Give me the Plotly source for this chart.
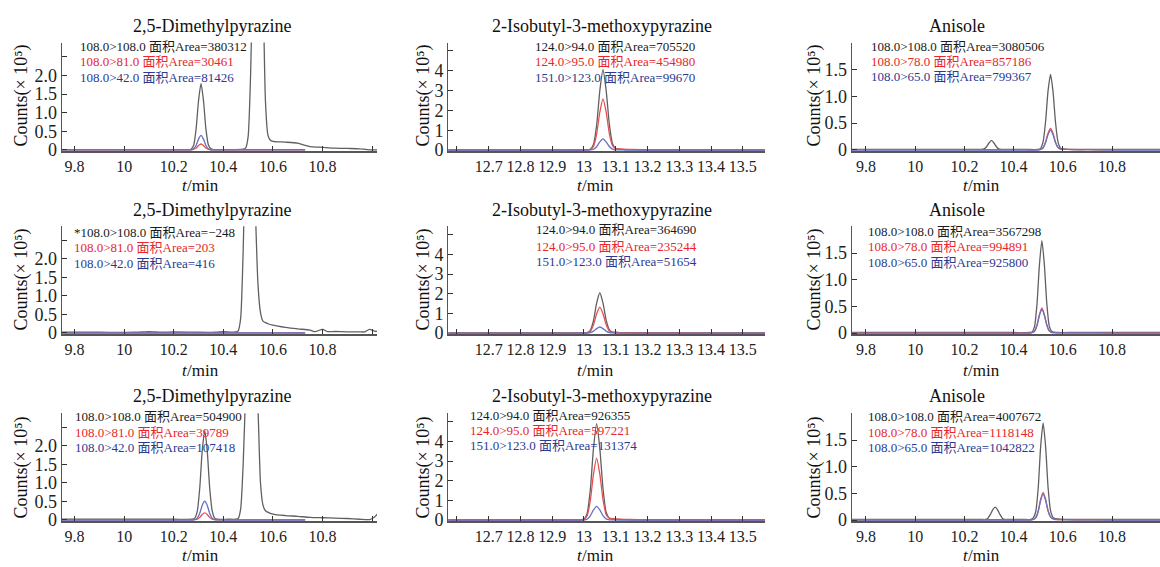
import plotly.graph_objects as go

# ---------------- DATA ----------------
# Panel 1 (row1, col1) 2,5-Dimethylpyrazine
P1_T_K = [9.74, 9.9, 10.0, 10.1, 10.2, 10.26, 10.27, 10.28, 10.29, 10.30, 10.31, 10.32, 10.33, 10.34, 10.35, 10.36, 10.40, 10.45, 10.48, 10.49, 10.50, 10.51, 10.52, 10.53, 10.54, 10.55, 10.56, 10.57, 10.58, 10.59, 10.60, 10.65, 10.70, 10.73, 10.75, 10.80, 10.85, 10.90, 10.95, 10.98, 11.02]
P1_K = [0.01, 0.01, 0.01, 0.01, 0.01, 0.01, 0.02, 0.12, 0.55, 1.32, 1.78, 1.32, 0.55, 0.13, 0.03, 0.01, 0.01, 0.01, 0.02, 0.05, 0.35, 2.0, 5.0, 7.5, 8.0, 7.0, 4.5, 1.3, 0.40, 0.26, 0.23, 0.21, 0.18, 0.12, 0.09, 0.07, 0.05, 0.04, 0.03, 0.01, 0.0]
P1_T_RB = [9.74, 10.0, 10.2, 10.26, 10.27, 10.28, 10.29, 10.30, 10.31, 10.32, 10.33, 10.34, 10.35, 10.36, 10.4, 10.6, 10.73]
P1_R = [0.005, 0.005, 0.005, 0.005, 0.005, 0.015, 0.05, 0.12, 0.16, 0.12, 0.05, 0.015, 0.005, 0.005, 0.005, 0.005, 0.005]
P1_B = [0, 0, 0, 0, 0.005, 0.03, 0.12, 0.29, 0.39, 0.29, 0.12, 0.03, 0.005, 0, 0, 0, 0]

# Panel 2 (row1, col2) 2-Isobutyl-3-methoxypyrazine
P2_T = [12.57, 12.8, 12.95, 13.0, 13.02, 13.03, 13.04, 13.05, 13.06, 13.07, 13.08, 13.09, 13.10, 13.12, 13.15, 13.2, 13.4, 13.57]
P2_K = [0.01, 0.01, 0.01, 0.01, 0.04, 0.28, 1.25, 3.0, 4.05, 3.0, 1.3, 0.32, 0.08, 0.04, 0.02, 0.01, 0.01, 0.01]
P2_R = [0.005, 0.005, 0.005, 0.005, 0.02, 0.18, 0.8, 1.91, 2.58, 1.91, 0.83, 0.22, 0.07, 0.05, 0.03, 0.01, 0.005, 0.005]
P2_B = [0, 0, 0, 0, 0.005, 0.04, 0.17, 0.41, 0.56, 0.41, 0.18, 0.05, 0.01, 0.005, 0, 0, 0, 0]

# Panel 3 (row1, col3) Anisole
P3_T = [9.74, 10.0, 10.2, 10.26, 10.27, 10.28, 10.29, 10.30, 10.31, 10.32, 10.33, 10.34, 10.35, 10.36, 10.45, 10.50, 10.51, 10.52, 10.53, 10.54, 10.55, 10.56, 10.57, 10.58, 10.59, 10.60, 10.62, 10.7, 10.8, 11.0]
P3_K = [0.01, 0.01, 0.01, 0.01, 0.01, 0.02, 0.06, 0.13, 0.18, 0.13, 0.06, 0.02, 0.01, 0.01, 0.01, 0.01, 0.03, 0.155, 0.53, 1.10, 1.41, 1.10, 0.53, 0.16, 0.04, 0.02, 0.01, 0.01, 0.01, 0.01]
P3_R = [0.005, 0.005, 0.005, 0.005, 0.005, 0.005, 0.005, 0.005, 0.005, 0.005, 0.005, 0.005, 0.005, 0.005, 0.005, 0.005, 0.01, 0.045, 0.15, 0.31, 0.40, 0.31, 0.15, 0.05, 0.015, 0.01, 0.01, 0.005, 0.005, 0.005]
P3_B = [0, 0, 0, 0, 0, 0, 0, 0, 0, 0, 0, 0, 0, 0, 0, 0, 0.01, 0.04, 0.14, 0.29, 0.37, 0.29, 0.14, 0.05, 0.02, 0.015, 0.01, 0.005, 0, 0]

# Panel 4 (row2, col1)
P4_T_K = [9.74, 9.9, 10.05, 10.10, 10.15, 10.2, 10.3, 10.37, 10.40, 10.43, 10.45, 10.46, 10.47, 10.48, 10.49, 10.50, 10.51, 10.52, 10.53, 10.54, 10.55, 10.56, 10.58, 10.60, 10.65, 10.70, 10.75, 10.77, 10.80, 10.82, 10.85, 10.90, 10.95, 10.97, 10.99, 11.01, 11.03]
P4_K = [0.02, 0.02, 0.02, 0.035, 0.02, 0.03, 0.02, 0.02, 0.035, 0.02, 0.03, 0.06, 0.4, 2.2, 5.0, 7.0, 7.5, 6.0, 3.2, 1.3, 0.55, 0.32, 0.25, 0.21, 0.15, 0.11, 0.08, 0.035, 0.1, 0.04, 0.04, 0.03, 0.03, 0.03, 0.1, 0.05, 0.04]
P4_T_RB = [9.74, 10.0, 10.4, 10.73]
P4_R = [0.005, 0.005, 0.005, 0.005]
P4_B = [0, 0, 0, 0]

# Panel 5 (row2, col2)
P5_T = [12.57, 12.8, 12.95, 12.99, 13.01, 13.02, 13.03, 13.04, 13.05, 13.06, 13.07, 13.08, 13.09, 13.11, 13.14, 13.2, 13.4, 13.57]
P5_K = [0.01, 0.01, 0.01, 0.01, 0.02, 0.14, 0.63, 1.52, 2.05, 1.52, 0.66, 0.17, 0.05, 0.03, 0.02, 0.01, 0.01, 0.01]
P5_R = [0.005, 0.005, 0.005, 0.005, 0.01, 0.09, 0.41, 0.98, 1.32, 0.98, 0.43, 0.11, 0.04, 0.03, 0.02, 0.01, 0.005, 0.005]
P5_B = [0, 0, 0, 0, 0.003, 0.02, 0.1, 0.23, 0.31, 0.23, 0.1, 0.025, 0.008, 0.004, 0, 0, 0, 0]

# Panel 6 (row2, col3)
P6_T = [9.74, 10.0, 10.2, 10.4, 10.465, 10.475, 10.485, 10.495, 10.505, 10.515, 10.525, 10.535, 10.545, 10.555, 10.565, 10.58, 10.65, 10.8, 11.0]
P6_K = [0.01, 0.01, 0.01, 0.01, 0.01, 0.02, 0.12, 0.54, 1.28, 1.73, 1.28, 0.55, 0.13, 0.03, 0.015, 0.01, 0.01, 0.01, 0.01]
P6_R = [0.005, 0.005, 0.005, 0.005, 0.005, 0.01, 0.035, 0.15, 0.35, 0.47, 0.35, 0.15, 0.04, 0.01, 0.008, 0.006, 0.005, 0.005, 0.005]
P6_B = [0, 0, 0, 0, 0, 0.01, 0.03, 0.14, 0.33, 0.45, 0.33, 0.15, 0.04, 0.01, 0.006, 0.004, 0.003, 0, 0]

# Panel 7 (row3, col1)
P7_T_K = [9.74, 10.0, 10.2, 10.275, 10.285, 10.295, 10.305, 10.315, 10.325, 10.335, 10.345, 10.355, 10.365, 10.375, 10.42, 10.45, 10.46, 10.47, 10.48, 10.49, 10.50, 10.51, 10.52, 10.53, 10.54, 10.55, 10.56, 10.57, 10.60, 10.65, 10.70, 10.75, 10.80, 10.85, 10.90, 10.95, 10.99, 11.01, 11.03]
P7_K = [0.02, 0.02, 0.02, 0.02, 0.05, 0.24, 0.87, 1.88, 2.42, 1.88, 0.87, 0.25, 0.05, 0.02, 0.02, 0.02, 0.04, 0.3, 1.5, 3.5, 6.0, 7.0, 6.5, 4.5, 3.0, 1.0, 0.4, 0.25, 0.16, 0.12, 0.1, 0.07, 0.06, 0.05, 0.04, 0.02, 0.01, 0.08, 0.22]
P7_T_RB = [9.74, 10.0, 10.2, 10.275, 10.285, 10.295, 10.305, 10.315, 10.325, 10.335, 10.345, 10.355, 10.365, 10.375, 10.42, 10.6, 10.73]
P7_R = [0.005, 0.005, 0.005, 0.005, 0.01, 0.02, 0.07, 0.15, 0.19, 0.15, 0.07, 0.02, 0.01, 0.005, 0.005, 0.005, 0.005]
P7_B = [0, 0, 0, 0, 0.01, 0.05, 0.18, 0.40, 0.51, 0.40, 0.18, 0.05, 0.01, 0.005, 0, 0, 0]

# Panel 8 (row3, col2)
P8_T = [12.57, 12.8, 12.95, 12.99, 13.0, 13.01, 13.02, 13.03, 13.04, 13.05, 13.06, 13.07, 13.08, 13.09, 13.11, 13.14, 13.2, 13.4, 13.57]
P8_K = [0.01, 0.01, 0.01, 0.01, 0.05, 0.34, 1.52, 3.63, 4.9, 3.63, 1.6, 0.4, 0.1, 0.06, 0.04, 0.02, 0.01, 0.01, 0.01]
P8_R = [0.005, 0.005, 0.005, 0.005, 0.03, 0.22, 0.98, 2.33, 3.15, 2.33, 1.05, 0.28, 0.1, 0.07, 0.05, 0.03, 0.01, 0.005, 0.005]
P8_B = [0, 0, 0, 0, 0.005, 0.05, 0.22, 0.52, 0.70, 0.52, 0.23, 0.06, 0.015, 0.008, 0.005, 0, 0, 0, 0]

# Panel 9 (row3, col3)
P9_T = [9.74, 10.0, 10.2, 10.27, 10.285, 10.295, 10.305, 10.315, 10.325, 10.335, 10.345, 10.355, 10.365, 10.375, 10.45, 10.47, 10.48, 10.49, 10.50, 10.51, 10.52, 10.53, 10.54, 10.55, 10.56, 10.57, 10.59, 10.65, 10.8, 11.0]
P9_K = [0.01, 0.01, 0.01, 0.01, 0.01, 0.03, 0.1, 0.19, 0.24, 0.19, 0.1, 0.03, 0.01, 0.01, 0.01, 0.01, 0.04, 0.16, 0.6, 1.38, 1.82, 1.38, 0.62, 0.18, 0.05, 0.025, 0.015, 0.01, 0.01, 0.01]
P9_R = [0.005, 0.005, 0.005, 0.005, 0.005, 0.005, 0.005, 0.005, 0.005, 0.005, 0.005, 0.005, 0.005, 0.005, 0.005, 0.005, 0.01, 0.05, 0.17, 0.39, 0.52, 0.39, 0.18, 0.06, 0.02, 0.01, 0.008, 0.005, 0.005, 0.005]
P9_B = [0, 0, 0, 0, 0, 0, 0, 0, 0, 0, 0, 0, 0, 0, 0, 0, 0.01, 0.04, 0.16, 0.37, 0.49, 0.37, 0.17, 0.06, 0.025, 0.012, 0.008, 0.004, 0, 0]

TITLES = ["2,5-Dimethylpyrazine", "2-Isobutyl-3-methoxypyrazine", "Anisole"]

LABELS = [
    ["108.0>108.0 面积Area=380312", "108.0>81.0 面积Area=30461", "108.0>42.0 面积Area=81426"],
    ["124.0>94.0 面积Area=705520", "124.0>95.0 面积Area=454980", "151.0>123.0 面积Area=99670"],
    ["108.0>108.0 面积Area=3080506", "108.0>78.0 面积Area=857186", "108.0>65.0 面积Area=799367"],
    ["*108.0>108.0 面积Area=\u2212248", "108.0>81.0 面积Area=203", "108.0>42.0 面积Area=416"],
    ["124.0>94.0 面积Area=364690", "124.0>95.0 面积Area=235244", "151.0>123.0 面积Area=51654"],
    ["108.0>108.0 面积Area=3567298", "108.0>78.0 面积Area=994891", "108.0>65.0 面积Area=925800"],
    ["108.0>108.0 面积Area=504900", "108.0>81.0 面积Area=39789", "108.0>42.0 面积Area=107418"],
    ["124.0>94.0 面积Area=926355", "124.0>95.0 面积Area=597221", "151.0>123.0 面积Area=131374"],
    ["108.0>108.0 面积Area=4007672", "108.0>78.0 面积Area=1118148", "108.0>65.0 面积Area=1042822"],
]

# labelled ticks and all tick marks
X_LAB_A = [9.8, 10.0, 10.2, 10.4, 10.6, 10.8]
X_TEXT_A = ["9.8", "10", "10.2", "10.4", "10.6", "10.8"]
X_MARK_A = [9.8, 10.0, 10.2, 10.4, 10.6, 10.8, 11.0]
X_LAB_B = [12.7, 12.8, 12.9, 13.0, 13.1, 13.2, 13.3, 13.4, 13.5]
X_TEXT_B = ["12.7", "12.8", "12.9", "13", "13.1", "13.2", "13.3", "13.4", "13.5"]
X_MARK_B = [12.6, 12.7, 12.8, 12.9, 13.0, 13.1, 13.2, 13.3, 13.4, 13.5]
Y_LAB_A = [0, 0.5, 1.0, 1.5, 2.0]
Y_TEXT_A = ["0", "0.5", "1.0", "1.5", "2.0"]
Y_MARK_A = [0, 0.5, 1.0, 1.5, 2.0, 2.5]
Y_LAB_B = [0, 1, 2, 3, 4]
Y_TEXT_B = ["0", "1", "2", "3", "4"]
Y_MARK_B = [0, 1, 2, 3, 4, 5]
Y_LAB_C = [0, 0.5, 1.0, 1.5]
Y_TEXT_C = ["0", "0.5", "1.0", "1.5"]
Y_MARK_C = [0, 0.5, 1.0, 1.5, 2.0]

# ---------------- LAYOUT / STYLE ----------------
W, H = 1160, 567
SERIF = "Liberation Serif, Times New Roman, Noto Sans CJK SC, serif"
C_K_LINE, C_R_LINE, C_B_LINE = "#606060", "#e85050", "#6672c4"
C_K_TXT, C_R_TXT, C_B_TXT = "#1a1a1a", "#e8262b", "#2b3990"
AXIS_C = "#555555"
XTICK_FONT = dict(family=SERIF, size=16, color="#222")
YTICK_FONT = dict(family=SERIF, size=18, color="#222")

def px_x(v):
    return v / W

def px_y(v):
    return 1 - v / H

COL_PX = [(61.7, 377.0), (448.3, 765.0), (851.7, 1160.0)]
ROW_PX = [(43.3, 153.5), (230.0, 339.5), (420.0, 529.5)]
COL_XRANGE = [(9.748, 11.02), (12.573, 13.57), (9.742, 10.995)]
COL_YRANGE = [(-0.03, 2.88), (-0.05, 5.42), (-0.02, 2.0)]
COL_XT = [(X_LAB_A, X_TEXT_A, X_MARK_A), (X_LAB_B, X_TEXT_B, X_MARK_B), (X_LAB_A, X_TEXT_A, X_MARK_A)]
COL_YT = [(Y_LAB_A, Y_TEXT_A, Y_MARK_A), (Y_LAB_B, Y_TEXT_B, Y_MARK_B), (Y_LAB_C, Y_TEXT_C, Y_MARK_C)]

PANELS = [
    (P1_T_K, P1_K, P1_T_RB, P1_R, P1_B),
    (P2_T, P2_K, P2_T, P2_R, P2_B),
    (P3_T, P3_K, P3_T, P3_R, P3_B),
    (P4_T_K, P4_K, P4_T_RB, P4_R, P4_B),
    (P5_T, P5_K, P5_T, P5_R, P5_B),
    (P6_T, P6_K, P6_T, P6_R, P6_B),
    (P7_T_K, P7_K, P7_T_RB, P7_R, P7_B),
    (P8_T, P8_K, P8_T, P8_R, P8_B),
    (P9_T, P9_K, P9_T, P9_R, P9_B),
]

LABEL_POS = [
    (78, [47.3, 62.3, 79.0]), (533, [47.3, 62.3, 79.0]), (869, [47.3, 62.3, 78.0]),
    (71.5, [236.7, 251.7, 267.7]), (534, [233.3, 250.0, 266.0]), (866, [235.0, 250.7, 266.7]),
    (73, [423.3, 439.3, 455.0]), (468, [421.7, 437.3, 452.7]), (866, [423.3, 439.3, 455.0]),
]
TITLE_X = [212, 602, 957]
TITLE_Y = [26, 213, 402]
YT_X = [21, 423, 814]
YT_Y = [97, 284, 475]
XT_X = [197, 592, 978]
XT_Y = [188, 376, 564]

fig = go.Figure()
layout = dict(
    width=W, height=H, margin=dict(l=0, r=0, t=0, b=0),
    paper_bgcolor="white", plot_bgcolor="white", showlegend=False,
    font=dict(family=SERIF, size=16, color="#222"),
)
annotations = []

for i, (tk, yk, trb, yr, yb) in enumerate(PANELS):
    r, c = divmod(i, 3)
    n = i + 1
    xa = "x" if n == 1 else f"x{n}"
    ya = "y" if n == 1 else f"y{n}"
    line_kw = dict(shape="spline", smoothing=0.6, width=1.3)
    fig.add_trace(go.Scatter(x=tk, y=yk, mode="lines", xaxis=xa, yaxis=ya,
                             line=dict(color=C_K_LINE, **line_kw), hoverinfo="skip"))
    fig.add_trace(go.Scatter(x=trb, y=yr, mode="lines", xaxis=xa, yaxis=ya,
                             line=dict(color=C_R_LINE, **line_kw), hoverinfo="skip"))
    fig.add_trace(go.Scatter(x=trb, y=yb, mode="lines", xaxis=xa, yaxis=ya,
                             line=dict(color=C_B_LINE, **line_kw), hoverinfo="skip"))

    x0, x1 = COL_PX[c]
    top, bot = ROW_PX[r]
    xkey = "xaxis" if n == 1 else f"xaxis{n}"
    ykey = "yaxis" if n == 1 else f"yaxis{n}"
    xlab, xtxt, xmark = COL_XT[c]
    ylab, ytxt, ymark = COL_YT[c]
    layout[xkey] = dict(
        domain=[px_x(x0), px_x(x1)], range=list(COL_XRANGE[c]), anchor=ya,
        showline=True, linecolor=AXIS_C, linewidth=1.5, ticks="inside", ticklen=5,
        tickcolor="#333", tickwidth=1.2, tickmode="array", tickvals=xlab, ticktext=xtxt,
        tickangle=0,
        minor=dict(tickmode="array", tickvals=xmark, ticks="inside", ticklen=5,
                   tickcolor="#333", tickwidth=1.2, showgrid=False),
        showgrid=False, zeroline=False, tickfont=XTICK_FONT, fixedrange=True,
    )
    layout[ykey] = dict(
        domain=[px_y(bot), px_y(top)], range=list(COL_YRANGE[c]), anchor=xa,
        showline=True, linecolor=AXIS_C, linewidth=1.2, ticks="inside", ticklen=5,
        tickcolor="#333", tickwidth=1.2, tickmode="array", tickvals=ylab, ticktext=ytxt,
        tickangle=0,
        minor=dict(tickmode="array", tickvals=ymark, ticks="inside", ticklen=5,
                   tickcolor="#333", tickwidth=1.2, showgrid=False),
        showgrid=False, zeroline=False, tickfont=YTICK_FONT, fixedrange=True,
    )

    lx, lys = LABEL_POS[i]
    for text, ly, col in zip(LABELS[i], lys, [C_K_TXT, C_R_TXT, C_B_TXT]):
        annotations.append(dict(
            text=text, x=px_x(lx), y=px_y(ly), xref="paper", yref="paper",
            xanchor="left", yanchor="middle", showarrow=False,
            font=dict(family=SERIF, size=13, color=col),
        ))
    annotations.append(dict(
        text=TITLES[c], x=px_x(TITLE_X[c]), y=px_y(TITLE_Y[r]), xref="paper", yref="paper",
        xanchor="center", yanchor="middle", showarrow=False,
        font=dict(family=SERIF, size=18, color="#111"),
    ))
    annotations.append(dict(
        text="Counts(\u00d7 10\u2075)", x=px_x(YT_X[c]), y=px_y(YT_Y[r]),
        xref="paper", yref="paper", xanchor="center", yanchor="middle",
        textangle=-90, showarrow=False, font=dict(family=SERIF, size=18, color="#111"),
    ))
    tx = XT_X[c] - 17
    annotations.append(dict(
        text="t", x=px_x(tx), y=px_y(XT_Y[r]),
        xref="paper", yref="paper", xanchor="left", yanchor="middle",
        showarrow=False, font=dict(family=SERIF, size=17, color="#111", style="italic"),
    ))
    annotations.append(dict(
        text="/min", x=px_x(tx + 5), y=px_y(XT_Y[r]),
        xref="paper", yref="paper", xanchor="left", yanchor="middle",
        showarrow=False, font=dict(family=SERIF, size=17, color="#111"),
    ))

layout["annotations"] = annotations
fig.update_layout(**layout)
fig.write_html("out.html")
